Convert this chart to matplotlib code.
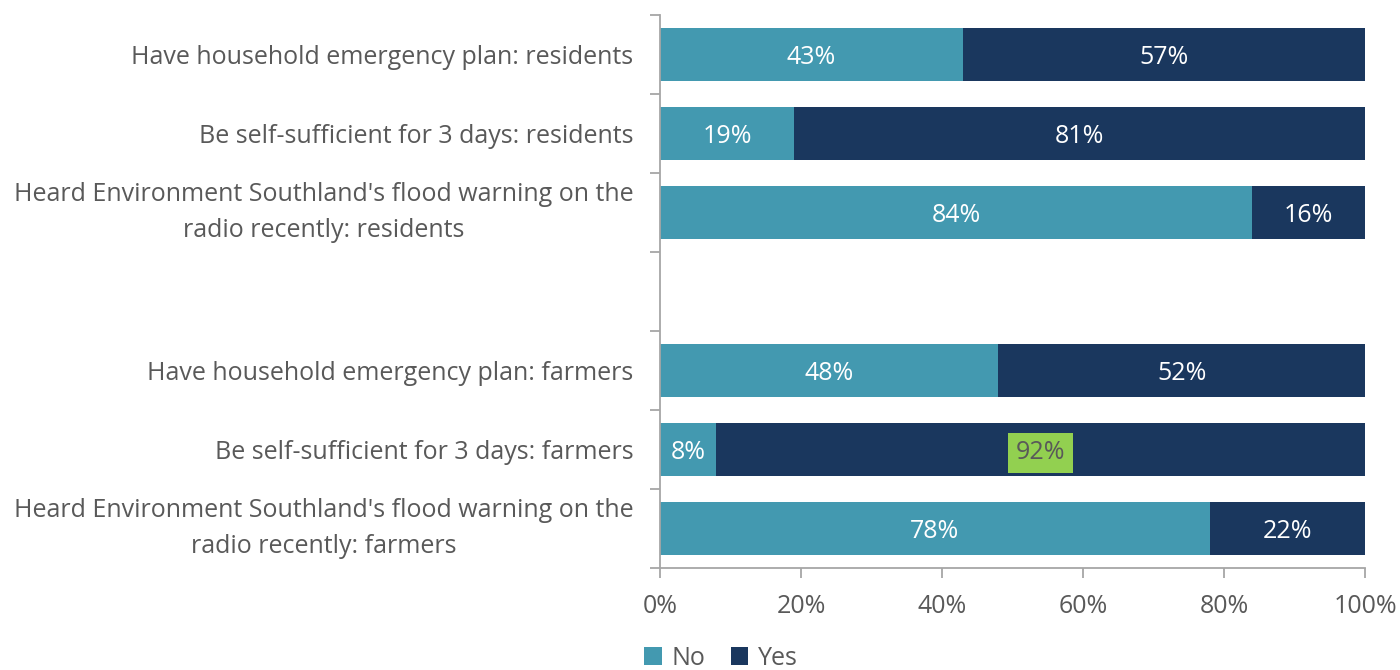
import matplotlib
matplotlib.use('Agg')
import matplotlib.pyplot as plt
import numpy as np

plt.rcParams['font.family'] = ['Open Sans', 'DejaVu Sans']

categories = [
    "Have household emergency plan: residents",
    "Be self-sufficient for 3 days: residents",
    "Heard Environment Southland's flood warning on the\nradio recently: residents",
    "",
    "Have household emergency plan: farmers",
    "Be self-sufficient for 3 days: farmers",
    "Heard Environment Southland's flood warning on the\nradio recently: farmers",
]
no_pct = [43, 19, 84, None, 48, 8, 78]
yes_pct = [57, 81, 16, None, 52, 92, 22]
highlight = (5, "yes")  # label drawn on a green box

c_no = '#4399B0'
c_yes = '#1A375E'
c_text = '#595959'
c_axis = '#A6A6A6'
fs = 18

fig = plt.figure(figsize=(14, 6.7), dpi=100)
ax = fig.add_axes([0.4714, 0.1522, 0.5036, 0.8254])

y = np.arange(len(categories))
h = 0.66
for i, (n, s) in enumerate(zip(no_pct, yes_pct)):
    if n is None:
        continue
    ax.barh(i, n, height=h, color=c_no, label='No' if i == 0 else None)
    ax.barh(i, s, left=n, height=h, color=c_yes, label='Yes' if i == 0 else None)
    ax.text(n / 2, i, f"{n}%", ha='center', va='center_baseline', color='white', fontsize=fs)
    if highlight == (i, "yes"):
        ax.text(n + s / 2, i, f"{s}%", ha='center', va='center_baseline', color=c_text,
                fontsize=fs, bbox=dict(boxstyle='square,pad=0.3', fc='#92D050', ec='none'))
    else:
        ax.text(n + s / 2, i, f"{s}%", ha='center', va='center_baseline', color='white',
                fontsize=fs)

ax.set_xlim(0, 100)
ax.set_ylim(len(categories) - 0.5, -0.5)
ax.set_xticks(np.arange(0, 101, 20))
ax.set_xticklabels([f"{v}%" for v in range(0, 101, 20)])

# category labels sit between the boundary tick marks
ax.set_yticks(np.arange(-0.5, len(categories), 1.0))
ax.set_yticklabels([])
ax.set_yticks(y, minor=True)
labels = ax.set_yticklabels(categories, minor=True, ha='right',
                            multialignment='center', linespacing=1.6)
for lab in labels:
    lab.set_va('center' if '\n' in lab.get_text() else 'center_baseline')
ax.tick_params(axis='y', which='minor', length=0, pad=19, labelsize=fs, labelcolor=c_text)
ax.tick_params(axis='y', which='major', length=7, color=c_axis, width=1.3)
ax.tick_params(axis='x', length=7, color=c_axis, width=1.3, labelsize=fs,
               labelcolor=c_text, pad=12)

for side in ['top', 'right']:
    ax.spines[side].set_visible(False)
for side in ['left', 'bottom']:
    ax.spines[side].set_color(c_axis)
    ax.spines[side].set_linewidth(1.3)

leg = fig.legend(loc='lower center', bbox_to_anchor=(0.515, -0.035), ncol=2, frameon=False,
                 fontsize=fs, handlelength=0.7, handleheight=0.7, handletextpad=0.4,
                 columnspacing=1.0, labelcolor=c_text)

fig.savefig('out.png', dpi=100)
